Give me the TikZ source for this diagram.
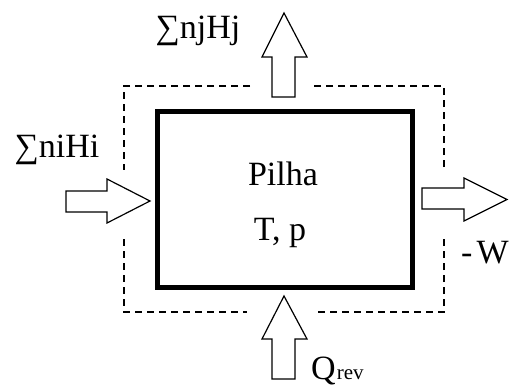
\documentclass[tikz,border=0pt]{standalone}
\usepackage{fontspec}
\setmainfont{Liberation Serif}
\begin{document}
\begin{tikzpicture}[x=1pt,y=-1pt,
  lbl/.style={inner sep=0pt,font=\fontsize{34}{40}\selectfont},
  blockarrow/.style={draw=black,line width=1.2pt,fill=white,line join=miter},
  boundary/.style={draw=black,line width=1.2pt,dash pattern=on 7pt off 5pt},
  cell/.style={draw=black,line width=5pt}]
\useasboundingbox (0,0) rectangle (510,388);
% dashed control surface
\draw[boundary] (250,86) -- (124,86) -- (124,170);
\draw[boundary] (124,239) -- (124,312) -- (247,312);
\draw[boundary] (318,312) -- (444,312) -- (444,239);
\draw[boundary] (444,167) -- (444,86) -- (314,86);
% cell
\draw[cell] (157,111) rectangle (412,287);
% block arrows
\draw[blockarrow] (272,97) -- (272,57) -- (262,57) -- (284,13) -- (307,57) -- (295,57) -- (295,97) -- cycle;
\draw[blockarrow] (272,379) -- (272,339) -- (262,339) -- (284,296) -- (307,339) -- (295,339) -- (295,379) -- cycle;
\draw[blockarrow] (66,191) -- (107,191) -- (107,179) -- (150,201) -- (107,223) -- (107,212) -- (66,212) -- cycle;
\draw[blockarrow] (422,188) -- (464,188) -- (464,178) -- (507,199.5) -- (464,221) -- (464,209) -- (422,209) -- cycle;
% labels
\node[lbl,anchor=base] (out) at (198,38) {∑njHj};
\node[lbl,anchor=base] (in) at (57,157) {∑niHi};
\node[lbl,anchor=base] (pilha) at (283,185) {Pilha};
\node[lbl,anchor=base] (tp) at (280,240) {T, p};
\node[lbl,anchor=base west] (w) at (461,263) {-\hspace{4pt}W};
\node[lbl,anchor=base west] (q) at (311,379) {Q\hspace{1pt}{\fontsize{21}{21}\selectfont rev}};
\end{tikzpicture}
\end{document}
